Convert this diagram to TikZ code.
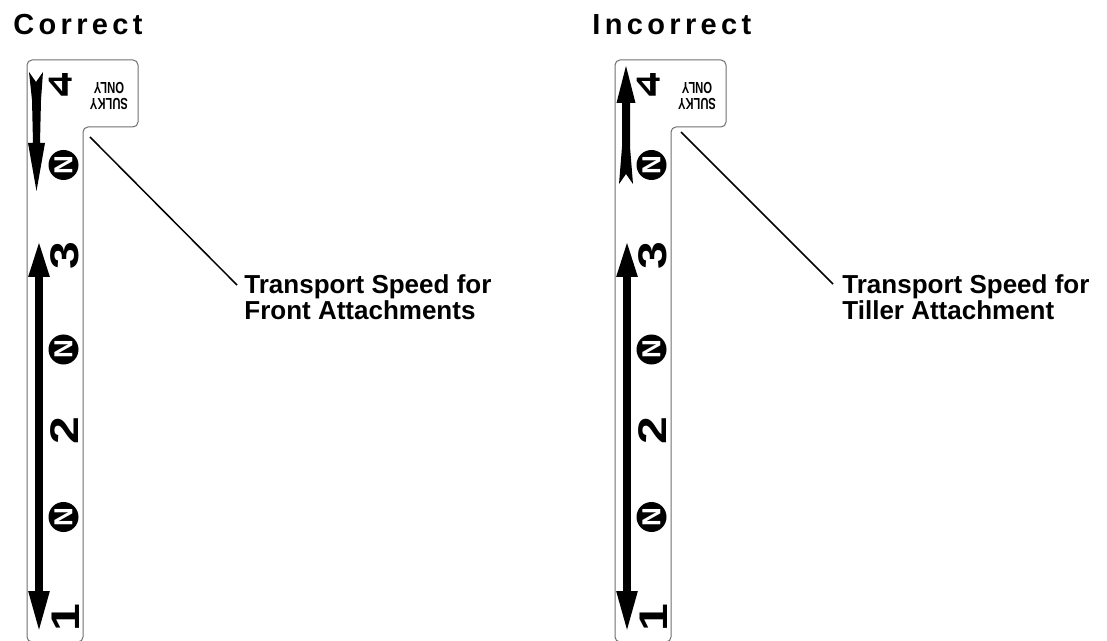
\documentclass[tikz,border=0pt]{standalone}
\usepackage{fontspec}
\setmainfont{Liberation Sans}
\newfontfamily\headfont[LetterSpace=15]{Liberation Sans}
\usetikzlibrary{arrows.meta}
\definecolor{decalgray}{RGB}{110,110,110}

\tikzset{
  outline/.style={draw=decalgray, line width=0.5pt, rounded corners=2.5pt},
  travelarrow/.style={line width=4pt, {Triangle[length=18.5pt,width=9.5pt]}-{Triangle[length=21pt,width=9.5pt]}},
  digit/.style={inner sep=0pt, font=\bfseries\fontsize{20}{20}\selectfont, rotate=90, xscale=1.25},
  neutral/.style={circle, fill=black, text=white, inner sep=0pt, minimum size=15pt, font=\bfseries\fontsize{13}{13}\selectfont, rotate=90},
  callout/.style={inner sep=0pt, align=left, font=\bfseries\fontsize{13}{13}\selectfont},
  heading/.style={inner sep=0pt, font=\headfont\bfseries\fontsize{14.5}{14.5}\selectfont},
  leader/.style={line width=0.75pt},
}

\begin{document}
\begin{tikzpicture}[x=0.5pt, y=-0.5pt]
\useasboundingbox (0,0) rectangle (1107,641);

% headings
\node[heading, anchor=base west] (hc) at (13,35) {Correct};
\node[heading, anchor=base west] (hi) at (592,35) {Incorrect};

% shift decal, the same on both sides
\foreach \dx/\s in {0/l, 588/r} {
  \begin{scope}[shift={(\dx,0)}]
    \draw[outline] (27,642) -- (27,60) -- (138,60) -- (138,127) -- (83,127) -- (83,642) -- cycle;
    \draw[travelarrow] (39,240) -- (39,633);
    \node[inner sep=0pt, font=\bfseries\fontsize{16.5}{16.5}\selectfont, yscale=-1, xscale=1.3] (four\s) at (60,85) {4};
    \node[inner sep=0pt, align=center, font=\bfseries\fontsize{8}{8}\selectfont, rotate=180, xscale=0.7] (sulky\s) at (109,96) {SULKY\\ONLY};
    \node[neutral] (na\s) at (63.5,165) {N};
    \node[digit] (three\s) at (65,256) {3};
    \node[neutral] (nb\s) at (63.5,349.5) {N};
    \node[digit] (two\s) at (65,431) {2};
    \node[neutral] (nc\s) at (63.5,517) {N};
    \node[digit] (one\s) at (66,618) {1};
  \end{scope}
}

% top arrows: down on the left, up on the right
\fill (29,72) -- (36,82) -- (43,72) -- (41,100) -- (40,143) -- (45,143) -- (36.5,191) -- (28,143) -- (33,143) -- (32,100) -- cycle;
\fill (626,66) -- (635.5,103) -- (630,103) -- (630,147) -- (633,184) -- (626,174) -- (619,184) -- (622,147) -- (622,103) -- (616.5,103) -- cycle;

% callouts
\coordinate (p1) at (90,137);
\coordinate (p2) at (681,132);
\node[callout, anchor=north west] (L1) at (244,274) {Transport Speed for\\Front Attachments};
\node[callout, anchor=north west] (L2) at (842,274) {Transport Speed for\\Tiller Attachment};
\draw[leader] (p1) -- ([shift={(-3.5pt,-5.5pt)}]L1.north west);
\draw[leader] (p2) -- ([shift={(-4.5pt,-5pt)}]L2.north west);
\end{tikzpicture}
\end{document}
